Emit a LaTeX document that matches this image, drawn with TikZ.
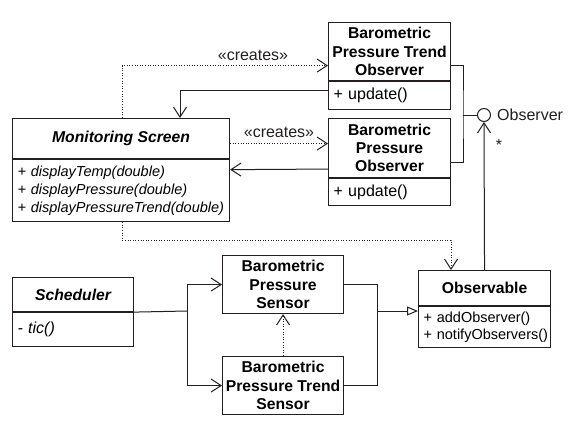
\documentclass[tikz,border=0pt]{standalone}
\usepackage{fontspec}
\setmainfont{Liberation Sans}
\usetikzlibrary{arrows.meta}
\definecolor{ink}{HTML}{231F20}
\begin{document}
\begin{tikzpicture}[x=1pt,y=-1pt,
  box/.style={draw=ink, line width=1.1pt, inner sep=0pt, anchor=north west, align=center,
    font=\fontsize{15.7}{18.3}\selectfont\bfseries},
  boxi/.style={box, font=\fontsize{15.7}{18.3}\selectfont\bfseries\itshape},
  ops/.style={draw=ink, line width=1.1pt, anchor=north west, inner xsep=5pt, inner ysep=0pt,
    align=left, font=\fontsize{14.5}{17.8}\selectfont},
  opsbig/.style={ops, font=\fontsize{16}{18}\selectfont},
  opsi/.style={ops, font=\fontsize{14.5}{17.8}\selectfont\itshape},
  lbl/.style={inner sep=0pt, text=ink, font=\fontsize{16}{18}\selectfont},
  line/.style={draw=ink, line width=1pt},
  assoc/.style={line, -{Straight Barb[length=10pt,width=13pt,line width=1pt]}},
  dep/.style={draw=ink, line width=1pt, dash pattern=on 1pt off 1.6pt,
    -{Straight Barb[length=10pt,width=13pt,line width=1pt]}},
  gen/.style={line, -{Triangle[open,length=11pt,width=9pt,line width=1pt]}}
]
\useasboundingbox (0,0) rectangle (573,429);
\fill[white] (0,0) rectangle (573,429);

% Monitoring Screen
\node[boxi, minimum width=217pt, minimum height=40pt] (msh) at (12,118) {Monitoring Screen};
\node[opsi, text width=207pt, minimum height=62pt] (msb) at (msh.south west)
  {\mbox{+ displayTemp(double)}\\\mbox{+ displayPressure(double)}\\\mbox{+ displayPressureTrend(double)}};

% Barometric Pressure Trend Observer
\node[box, minimum width=122pt, minimum height=58pt] (bptoh) at (328,22)
  {Barometric\\Pressure Trend\\Observer};
\node[opsbig, text width=112pt, minimum height=28pt] (bptob) at (bptoh.south west) {+ update()};

% Barometric Pressure Observer
\node[box, minimum width=122pt, minimum height=59pt] (bpoh) at (328,118)
  {Barometric\\Pressure\\Observer};
\node[opsbig, text width=112pt, minimum height=27pt] (bpob) at (bpoh.south west) {+ update()};

% Observable
\node[box, minimum width=132pt, minimum height=35pt] (obsh) at (418,270) {Observable};
\node[ops, text width=122pt, minimum height=41pt] (obsb) at (obsh.south west)
  {\mbox{+ addObserver()}\\\mbox{+ notifyObservers()}};

% Scheduler
\node[boxi, minimum width=121pt, minimum height=34pt] (schh) at (12,277) {Scheduler};
\node[opsbig, text width=111pt, minimum height=34pt, font=\fontsize{16}{18}\selectfont\itshape] (schb) at (schh.south west) {- tic()};

% Sensors
\node[box, minimum width=121pt, minimum height=58pt] (bps) at (222,255)
  {Barometric\\Pressure\\Sensor};
\node[box, minimum width=121pt, minimum height=58pt] (bpts) at (222,356)
  {Barometric\\Pressure Trend\\Sensor};

% Observer lollipop
\node[circle, draw=ink, line width=1pt, minimum size=13pt, inner sep=0pt] (lolly) at (484,115) {};
\node[lbl, anchor=west] (obslbl) at (497,115) {Observer};
\node[lbl] (star) at (499,145) {*};

% labels
\node[lbl] (cr1) at (253,55) {«creates»};
\node[lbl] (cr2) at (279,132) {«creates»};

% junction coordinates
\coordinate (obsj) at (463,115);
\coordinate (dbend) at (122,240);
\coordinate (sj) at (187,311);
\coordinate (gj) at (377,311);

% connectors
\draw[dep] ([xshift=110pt]msh.north west) |- ([yshift=-14pt]bptoh.west);
\draw[assoc] ([yshift=5pt]bptob.west) -| ([xshift=168pt]msh.north west);
\draw[dep] ([yshift=-5pt]msh.east) -- ([yshift=4.5pt]bpoh.west);
\draw[assoc] ([yshift=-21pt]bpoh.west) -- ([yshift=21pt]msb.east);

\draw[line] ([yshift=-14pt]bptoh.east) -| (obsj) |- ([yshift=-14.5pt]bpoh.east);
\draw[line] (obsj) -- (lolly.west);
\draw[assoc] (obsh.north) -- (lolly.south);

\draw[dep] ([xshift=110pt]msb.south west) -- (dbend) -| ([xshift=33pt]obsh.north west);

\draw[line] (schh.south east) -- (sj);
\draw[assoc] (sj) |- (bps.west);
\draw[assoc] (sj) |- (bpts.west);
\draw[dep] (bpts.north) -- (bps.south);

\draw[line] (bps.east) -| (gj);
\draw[line] (bpts.east) -| (gj);
\draw[gen] (gj) -- (gj -| obsb.west);
\end{tikzpicture}
\end{document}
